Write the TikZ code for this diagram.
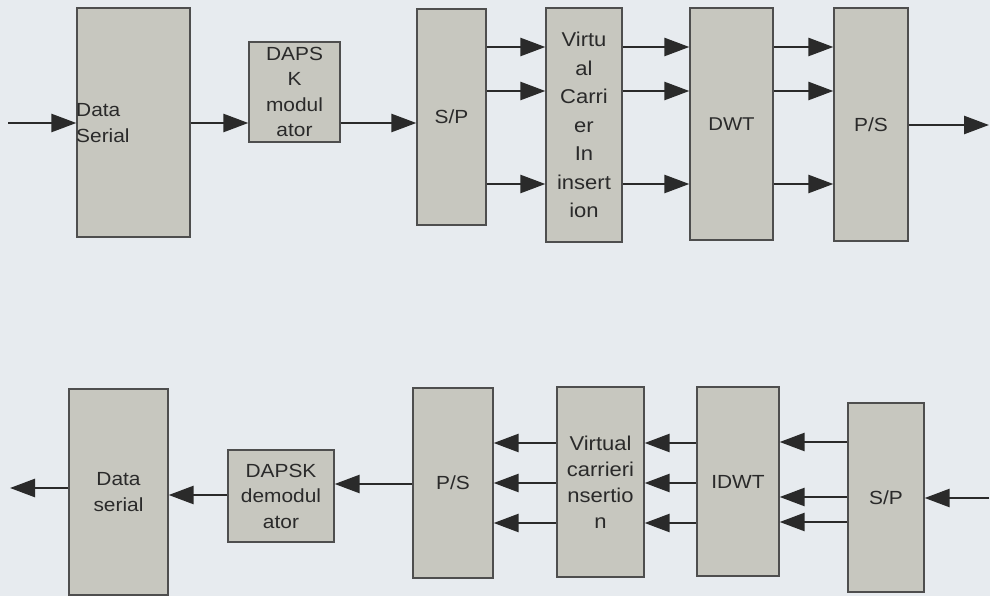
\documentclass[tikz,border=0pt]{standalone}
\usepackage{fontspec}
\setmainfont{Liberation Sans}[FakeStretch=1.1]
\usetikzlibrary{arrows.meta}
\definecolor{bgc}{HTML}{E7EBEF}
\definecolor{boxc}{HTML}{C7C7BF}
\definecolor{edgec}{HTML}{4E4E4E}
\definecolor{inkc}{HTML}{2A2A2A}
\tikzset{
  blk/.style={draw=edgec, fill=boxc, line width=1.3pt, inner sep=0pt, align=center,
    text=inkc, font=\fontsize{19}{25.5}\selectfont},
  lbl/.style={inner sep=0pt, text=inkc, align=left, font=\fontsize{19}{26}\selectfont},
  arr/.style={draw=inkc, line width=2.6pt, -{Triangle[length=25pt,width=18pt]}},
}
\begin{document}
\begin{tikzpicture}[x=1pt,y=-1pt]
\fill[bgc] (0,0) rectangle (990,596);
\useasboundingbox (0,0) rectangle (990,596);
% ---------- top row ----------
\node[blk, minimum width=113pt, minimum height=229pt] (ds1) at (133.5,122.5) {};
\node[lbl, anchor=west] (ds1t) at (76,123) {Data\\Serial};
\node[blk, minimum width=91pt, minimum height=100pt] (mod) at (294.5,92) {DAPS\\K\\modul\\ator};
\node[blk, minimum width=69pt, minimum height=216pt] (sp1) at (451.5,117) {S/P};
\node[blk, minimum width=76pt, minimum height=234pt, font=\fontsize{20}{28.5}\selectfont] (vci) at (584,125) {Virtu\\al\\Carri\\er\\In\\insert\\ion};
\node[blk, minimum width=83pt, minimum height=232pt, font=\fontsize{18.5}{25}\selectfont] (dwt) at (731.5,124) {DWT};
\node[blk, minimum width=74pt, minimum height=233pt] (ps1) at (871,124.5) {P/S};
\coordinate (in1) at (8,123);
\coordinate (out1) at (989,125);
\draw[arr] (in1) -- (ds1.west |- in1);
\draw[arr] (ds1.east |- 0,123) -- (mod.west |- 0,123);
\draw[arr] (mod.east |- 0,123) -- (sp1.west |- 0,123);
\foreach \yy in {47,91,184}{
  \draw[arr] (sp1.east |- 0,\yy) -- (vci.west |- 0,\yy);
  \draw[arr] (vci.east |- 0,\yy) -- (dwt.west |- 0,\yy);
  \draw[arr] (dwt.east |- 0,\yy) -- (ps1.west |- 0,\yy);
}
\draw[arr] (ps1.east |- out1) -- (out1);
% ---------- bottom row ----------
\node[blk, minimum width=99pt, minimum height=206pt] (ds2) at (118.5,492) {Data\\serial};
\node[blk, minimum width=106pt, minimum height=92pt] (dem) at (281,496) {DAPSK\\demodul\\ator};
\node[blk, minimum width=80pt, minimum height=190pt] (ps2) at (453,483) {P/S};
\node[blk, minimum width=87pt, minimum height=190pt, font=\fontsize{20}{26}\selectfont] (vc2) at (600.5,482) {Virtual\\carrieri\\nsertio\\n};
\node[blk, minimum width=82pt, minimum height=189pt] (idwt) at (738,481.5) {IDWT};
\node[blk, minimum width=76pt, minimum height=189pt] (sp2) at (886,497.5) {S/P};
\coordinate (out2) at (10,488);
\coordinate (in2) at (989,498);
\draw[arr] (ds2.west |- out2) -- (out2);
\draw[arr] (dem.west |- 0,495) -- (ds2.east |- 0,495);
\draw[arr] (ps2.west |- 0,484) -- (dem.east |- 0,484);
\foreach \yy in {443,483,523}{
  \draw[arr] (vc2.west |- 0,\yy) -- (ps2.east |- 0,\yy);
  \draw[arr] (idwt.west |- 0,\yy) -- (vc2.east |- 0,\yy);
}
\foreach \yy in {442,497,522}{
  \draw[arr] (sp2.west |- 0,\yy) -- (idwt.east |- 0,\yy);
}
\draw[arr] (in2) -- (sp2.east |- in2);
\end{tikzpicture}
\end{document}
